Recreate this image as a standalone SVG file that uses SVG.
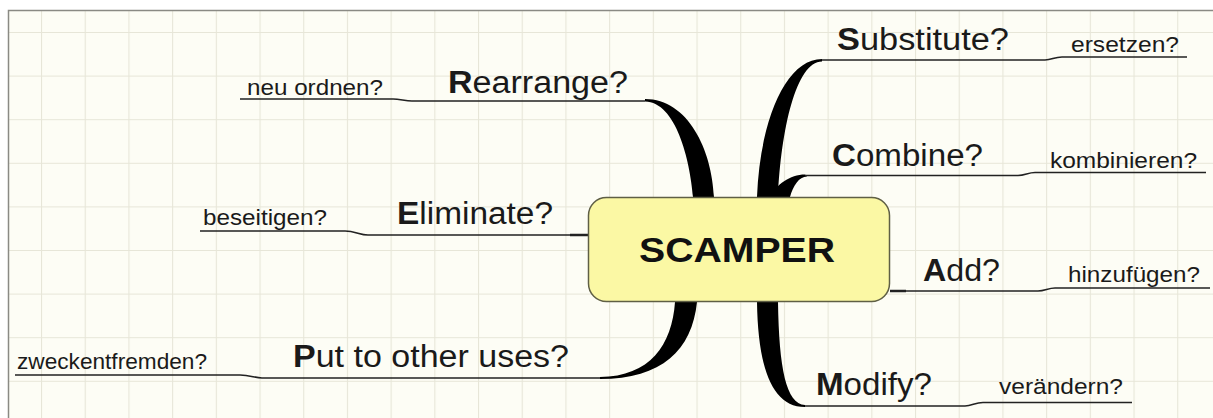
<svg xmlns="http://www.w3.org/2000/svg" width="1213" height="418" viewBox="0 0 1213 418">
<defs>
<pattern id="grid" patternUnits="userSpaceOnUse" x="41" y="32" width="43.7" height="43.6">
<path d="M0,0 V43.6 M0,0 H43.7" fill="none" stroke="#e7e6d8" stroke-width="2.2"/>
</pattern>
<style>
.main{font-family:"Liberation Sans",Arial,sans-serif;font-size:31px;fill:#1a1a1a}
.sub{font-family:"Liberation Sans",Arial,sans-serif;font-size:22px;fill:#1a1a1a}
.b{font-weight:bold}
.ul{fill:none;stroke:#222;stroke-width:1.6}
.br{fill:#000;stroke:none}
</style>
</defs>
<rect x="0" y="0" width="1213" height="418" fill="#ffffff"/>
<rect x="9" y="11" width="1210" height="420" fill="#fdfdf5"/>
<rect x="9" y="11" width="1210" height="420" fill="url(#grid)"/>
<rect x="8.5" y="10.5" width="1215" height="420" fill="none" stroke="#8a8a84" stroke-width="1.5"/>

<g id="connectors">
<path class="br" d="M645,99 C688,99 712,150 714,197 L693,197 C690,160 676,102 645,101.5 Z"/>
<path class="br" d="M822,59 C786,59 760,120 757,197 L778,197 C781,130 796,61.5 822,61.5 Z"/>
<path class="br" d="M805,174.5 C790,174.5 776,185 770,197 L790,197 C793,186 799,176.5 807,176.5 Z"/>
<path class="br" d="M675,302 C672,345 650,376.5 600,377 L600,379 C662,379 692,350 697,302 Z"/>
<path class="br" d="M757,302 C758,368 772,407 805,407 L805,405 C786,404 779,368 778,302 Z"/>
<path d="M570,235 H588" fill="none" stroke="#222" stroke-width="2.5"/>
<path d="M890,291 H906" fill="none" stroke="#222" stroke-width="2.5"/>
<path class="ul" d="M822,60 H1045 C1052,60 1054,57 1062,57 H1187"/>
<path class="ul" d="M805,175.5 H1018 C1025,175.5 1028,172.5 1035,172.5 H1206"/>
<path class="ul" d="M890,291 H1038 C1045,291 1048,288 1055,288 H1210"/>
<path class="ul" d="M805,406 H965 C972,406 975,402.5 983,402.5 H1132"/>
<path class="ul" d="M645,101 H412 C405,101 400,99 393,99 H240"/>
<path class="ul" d="M572,235 H368 C360,235 355,231 345,231 H200"/>
<path class="ul" d="M600,378 H262 C255,378 250,375 240,375 H15"/>
</g>

<g id="center">
<rect x="588.5" y="197.5" width="301" height="104" rx="18" fill="#fbf8a4" stroke="#5f5f45" stroke-width="1.5"/>
<text x="639" y="262" font-family="Liberation Sans,Arial,sans-serif" font-size="35" font-weight="bold" fill="#111" textLength="196" lengthAdjust="spacingAndGlyphs">SCAMPER</text>
</g>

<g id="substitute">
<text class="main" x="837" y="50" textLength="172" lengthAdjust="spacingAndGlyphs"><tspan class="b">S</tspan>ubstitute?</text>
<text class="sub" x="1071" y="52" textLength="108" lengthAdjust="spacingAndGlyphs">ersetzen?</text>
</g>
<g id="combine">
<text class="main" x="832" y="166" textLength="151" lengthAdjust="spacingAndGlyphs"><tspan class="b">C</tspan>ombine?</text>
<text class="sub" x="1050" y="168" textLength="147" lengthAdjust="spacingAndGlyphs">kombinieren?</text>
</g>
<g id="add">
<text class="main" x="923" y="281" textLength="77" lengthAdjust="spacingAndGlyphs"><tspan class="b">A</tspan>dd?</text>
<text class="sub" x="1068" y="282" textLength="132" lengthAdjust="spacingAndGlyphs">hinzufügen?</text>
</g>
<g id="modify">
<text class="main" x="816" y="395" textLength="116" lengthAdjust="spacingAndGlyphs"><tspan class="b">M</tspan>odify?</text>
<text class="sub" x="999" y="394" textLength="124" lengthAdjust="spacingAndGlyphs">verändern?</text>
</g>
<g id="rearrange">
<text class="main" x="448" y="93" textLength="180" lengthAdjust="spacingAndGlyphs"><tspan class="b">R</tspan>earrange?</text>
<text class="sub" x="247" y="95" textLength="136" lengthAdjust="spacingAndGlyphs">neu ordnen?</text>
</g>
<g id="eliminate">
<text class="main" x="397" y="224" textLength="156" lengthAdjust="spacingAndGlyphs"><tspan class="b">E</tspan>liminate?</text>
<text class="sub" x="203" y="225" textLength="124" lengthAdjust="spacingAndGlyphs">beseitigen?</text>
</g>
<g id="put">
<text class="main" x="293" y="367" textLength="276" lengthAdjust="spacingAndGlyphs"><tspan class="b">P</tspan>ut to other uses?</text>
<text class="sub" x="17" y="369" textLength="190" lengthAdjust="spacingAndGlyphs">zweckentfremden?</text>
</g>
</svg>
